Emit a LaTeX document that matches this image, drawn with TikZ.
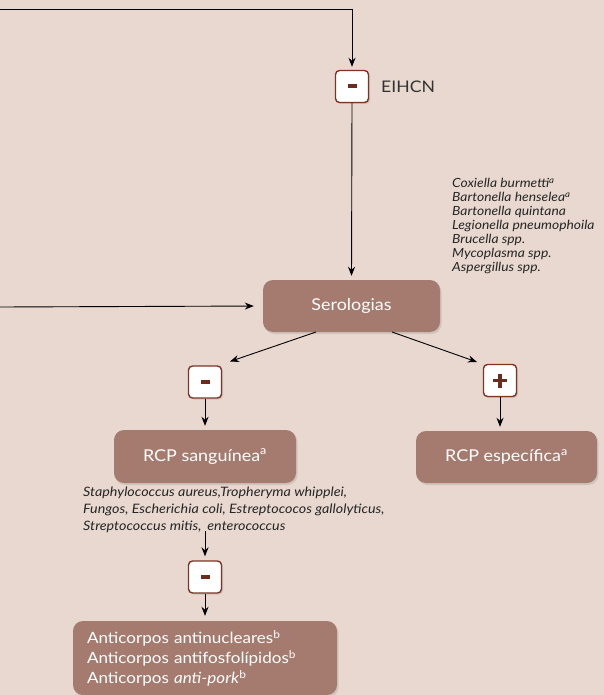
\documentclass[tikz,border=0pt]{standalone}
\usepackage{fontspec}
\setmainfont{Lato}[FakeStretch=1.1]
\usetikzlibrary{arrows.meta,shadows,calc}
\definecolor{bgc}{HTML}{E8D8CF}
\definecolor{boxc}{HTML}{A57B6F}
\definecolor{brd}{HTML}{7B3525}
\definecolor{sgn}{HTML}{6E2A1C}
\begin{document}
\begin{tikzpicture}[x=1pt,y=-1pt,
  bigbox/.style={rectangle,rounded corners=10pt,fill=boxc,text=white,font=\fontsize{16.3}{20}\selectfont,inner sep=0pt,
     drop shadow={opacity=0.22,shadow xshift=1.5pt,shadow yshift=-2pt}},
  signbox/.style={rectangle,rounded corners=4pt,fill=white,draw=brd,line width=1.4pt,minimum width=33pt,minimum height=32pt,inner sep=0pt,
     drop shadow={opacity=0.25,shadow xshift=1.5pt,shadow yshift=-1.5pt}},
  conn/.style={line width=0.9pt,-{Stealth[length=9pt,width=7pt]}},
  lst/.style={font=\itshape\fontsize{12.6}{14}\selectfont,align=left,inner sep=0pt,text=black!85}]
\fill[bgc] (0,0) rectangle (604,695);
\useasboundingbox (0,0) rectangle (604,695);

% sign boxes
\node[signbox] (m1) at (352,86.5) {};
\fill[sgn] ($(m1)+(-4.5,-2)$) rectangle ($(m1)+(4.5,2)$);
\node[signbox] (m2) at (205,382) {};
\fill[sgn] ($(m2)+(-4.5,-2)$) rectangle ($(m2)+(4.5,2)$);
\node[signbox] (p1) at (500,380.5) {};
\fill[sgn] ($(p1)+(-7,-1.6)$) rectangle ($(p1)+(7,1.6)$);
\fill[sgn] ($(p1)+(-1.6,-7)$) rectangle ($(p1)+(1.6,7)$);
\node[signbox] (m3) at (205,577) {};
\fill[sgn] ($(m3)+(-4.5,-2)$) rectangle ($(m3)+(4.5,2)$);

\node[anchor=west,font=\fontsize{16}{19}\selectfont,text=black!80,inner sep=0pt] (eihcn) at (381,87) {EIHCN};

% main boxes
\node[bigbox,minimum width=177pt,minimum height=52pt] (ser) at (351.5,306) {Serologias};
\node[bigbox,minimum width=182pt,minimum height=53pt] (rcps) at (205,456.5) {RCP sanguínea\textsuperscript{a}};
\node[bigbox,minimum width=181pt,minimum height=52pt] (rcpe) at (506.5,457) {RCP específica\textsuperscript{a}};
\node[bigbox,minimum width=264pt,minimum height=74pt,align=left,text width=236pt,font=\fontsize{15.5}{20}\selectfont] (anti) at (205,658)
  {Anticorpos antinucleares\textsuperscript{b}\\Anticorpos antifosfolípidos\textsuperscript{b}\\Anticorpos \textit{anti-pork}\textsuperscript{b}};

% lists
\node[lst,anchor=north west] (bact) at (452,178) {Coxiella burmetti\textsuperscript{a}\\Bartonella henselea\textsuperscript{a}\\Bartonella quintana\\Legionella pneumophoila\\Brucella spp.\\Mycoplasma spp.\\Aspergillus spp.};
\node[lst,anchor=north west,font=\itshape\fontsize{13}{17}\selectfont] (list2) at (83,487) {Staphylococcus aureus,Tropheryma whipplei,\\Fungos, Escherichia coli, Estreptococos gallolyticus,\\Streptococcus mitis, \hspace{2.5pt}enterococcus};

% coordinates
\coordinate (tl) at (0,9.5);
\coordinate (tc) at (352,9.5);
\coordinate (ll) at (0,307);
\coordinate (s1) at (316,332);
\coordinate (e1) at (230,361.5);
\coordinate (s2) at (392,332);
\coordinate (e2) at (477,362);
\coordinate (lb) at (205,531);

% connectors
\draw[conn,shorten >=3pt] (tl) -- (tc) -- (m1.north);
\draw[conn,shorten >=4pt] (m1.south) -- (ser.north);
\draw[conn,shorten >=9pt] (ll) -- (ser.west);
\draw[conn] (s1) -- (e1);
\draw[conn] (s2) -- (e2);
\draw[conn,shorten >=4pt] (m2.south) -- (rcps.north);
\draw[conn,shorten >=4pt] (p1.south) -- (p1.south |- rcpe.north);
\draw[conn,shorten >=4pt] (lb) -- (m3.north);
\draw[conn,shorten >=5pt] (m3.south) -- (anti.north);
\end{tikzpicture}
\end{document}
